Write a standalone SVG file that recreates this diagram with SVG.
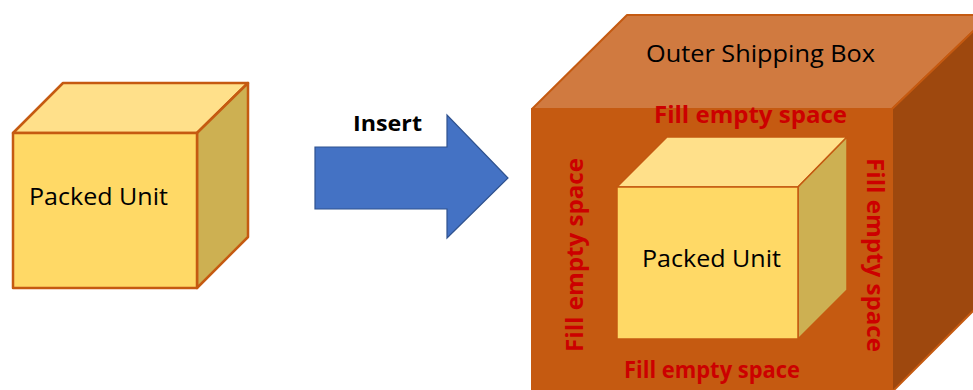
<svg xmlns="http://www.w3.org/2000/svg" width="973" height="390" viewBox="0 0 973 390">
  <style>
    .lbl { font-family: "Open Sans", "Liberation Sans", sans-serif; font-size: 24px; fill: #000; }
    .bold { font-family: "Open Sans", "Liberation Sans", sans-serif; font-weight: bold; font-size: 22px; fill: #000; }
    .fill { font-family: "Open Sans", "Liberation Sans", sans-serif; font-weight: bold; font-size: 23px; fill: #CC0000; }
    .cubeFront { fill: #FFD966; }
    .cubeTop { fill: #FFE08A; }
    .cubeSide { fill: #CDB052; }
    .cubeEdge { stroke: #C55A11; stroke-linejoin: round; }
  </style>
  <rect width="973" height="390" fill="#FFFFFF"/>

  <g id="packed-unit-left">
    <g class="cubeEdge" stroke-width="2.5">
      <polygon class="cubeTop" points="13,133 63,83 248,83 197,133"/>
      <polygon class="cubeSide" points="197,133 248,83 248,237 197,288"/>
      <rect class="cubeFront" x="13" y="133" width="184" height="155"/>
    </g>
    <text class="lbl" x="29" y="205" textLength="139" lengthAdjust="spacingAndGlyphs">Packed Unit</text>
  </g>

  <g id="connectors">
    <g id="insert-arrow">
      <polygon points="315,147 447,147 447,115 508,178 447,238 447,209 315,209" fill="#4472C4" stroke="#2F528F" stroke-width="1.2" stroke-linejoin="miter"/>
      <text class="bold" x="353" y="131" textLength="69" lengthAdjust="spacingAndGlyphs">Insert</text>
    </g>
  </g>

  <g id="outer-shipping-box">
    <g stroke="#C55A11" stroke-width="2" stroke-linejoin="round">
      <polygon points="532,109 627,15 990,15 892,109" fill="#D07A40"/>
      <polygon points="892,109 990,15 990,294 892,392" fill="#9E480E"/>
      <rect x="532" y="109" width="360" height="285" fill="#C55A11"/>
    </g>
    <text class="lbl" x="646" y="62" textLength="229" lengthAdjust="spacingAndGlyphs">Outer Shipping Box</text>
    <text class="fill" x="654" y="123" textLength="193" lengthAdjust="spacingAndGlyphs">Fill empty space</text>
    <text class="fill" x="624" y="378" textLength="176" lengthAdjust="spacingAndGlyphs">Fill empty space</text>
    <text class="fill" transform="translate(583,352) rotate(-90)" x="0" y="0" textLength="194" lengthAdjust="spacingAndGlyphs">Fill empty space</text>
    <text class="fill" transform="translate(867,158) rotate(90)" x="0" y="0" textLength="194" lengthAdjust="spacingAndGlyphs">Fill empty space</text>
  </g>

  <g id="packed-unit-inner">
    <g class="cubeEdge" stroke-width="1.5">
      <polygon class="cubeTop" points="617,187 667,137 847,137 798,187"/>
      <polygon class="cubeSide" points="798,187 847,137 847,290 798,339"/>
      <rect class="cubeFront" x="617" y="187" width="181" height="152"/>
    </g>
    <text class="lbl" x="642" y="267" textLength="139" lengthAdjust="spacingAndGlyphs">Packed Unit</text>
  </g>
</svg>
